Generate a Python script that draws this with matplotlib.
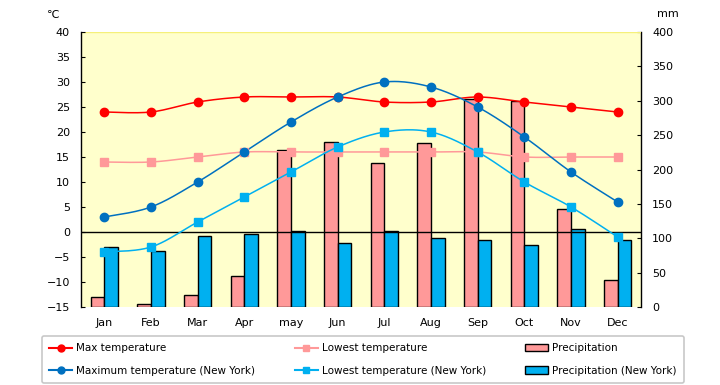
import numpy as np
import matplotlib.pyplot as plt
from matplotlib.lines import Line2D
from matplotlib.patches import Patch

months = ["Jan", "Feb", "Mar", "Apr", "may", "Jun", "Jul", "Aug", "Sep", "Oct", "Nov", "Dec"]

max_temp = [24, 24, 26, 27, 27, 27, 26, 26, 27, 26, 25, 24]
low_temp = [14, 14, 15, 16, 16, 16, 16, 16, 16, 15, 15, 15]
precip = [14, 4, 18, 45, 228, 240, 210, 239, 303, 299, 143, 40]

ny_max_temp = [3, 5, 10, 16, 22, 27, 30, 29, 25, 19, 12, 6]
ny_low_temp = [-4, -3, 2, 7, 12, 17, 20, 20, 16, 10, 5, -1]
ny_precip = [87, 82, 103, 106, 111, 93, 110, 101, 98, 90, 113, 98]

temp_ticks = list(range(-15, 41, 5))
mm_ticks = list(range(0, 401, 50))


def smooth(x, y, n=24):
    # bezier smoothing like spreadsheet "smoothed line"
    x = np.asarray(x, float)
    y = np.asarray(y, float)
    pts = np.column_stack([x, y])
    out = [pts[0]]
    t = np.linspace(0, 1, n)[1:, None]
    for i in range(len(pts) - 1):
        p0 = pts[i - 1] if i > 0 else pts[i]
        p1 = pts[i]
        p2 = pts[i + 1]
        p3 = pts[i + 2] if i + 2 < len(pts) else pts[i + 1]
        c1 = p1 + (p2 - p0) / 6
        c2 = p2 - (p3 - p1) / 6
        seg = ((1 - t) ** 3) * p1 + 3 * ((1 - t) ** 2) * t * c1 + 3 * (1 - t) * t ** 2 * c2 + t ** 3 * p2
        out.extend(seg)
    out = np.array(out)
    return out[:, 0], out[:, 1]


fig = plt.figure(figsize=(7.2, 3.85), dpi=100)
ax = fig.add_axes([81 / 720, 1 - 307 / 385, (641 - 81) / 720, (307 - 32) / 385])
ax.set_facecolor("#FFFFCC")

x = np.arange(len(months))
bw = 0.29
ax.bar(x - bw / 2, precip, bw, color="#FF9999", edgecolor="black", linewidth=1, zorder=2)
ax.bar(x + bw / 2, ny_precip, bw, color="#00B0F0", edgecolor="black", linewidth=1, zorder=2)
ax.set_ylim(0, 400)
ax.set_xlim(-0.5, 11.5)
ax.set_xticks(x)
ax.set_xticklabels(months)
ax.tick_params(axis="x", length=0, labelsize=8, pad=8)

axt = ax.twinx()
axt.set_ylim(-15, 40)

# bars axis -> right scale, temperature axis -> left scale
ax.set_yticks(mm_ticks)
ax.yaxis.tick_right()
ax.yaxis.set_label_position("right")
ax.tick_params(axis="y", direction="in", length=3, labelsize=8, pad=8,
               left=False, labelleft=False, right=True, labelright=True)
axt.set_yticks(temp_ticks)
axt.yaxis.tick_left()
axt.tick_params(axis="y", direction="in", length=3, labelsize=8, pad=8,
                right=False, labelright=False, left=True, labelleft=True)

for s in ["top", "bottom", "left"]:
    ax.spines[s].set_visible(False)
ax.spines["right"].set_linewidth(1)
for s in ["top", "bottom", "right"]:
    axt.spines[s].set_visible(False)
axt.spines["left"].set_linewidth(1)
axt.axhline(0, color="black", lw=1, zorder=1)
axt.axhline(40, color="#F5F07A", lw=1, zorder=1)

series = [
    (max_temp, "#FF0000", "o", 6),
    (low_temp, "#FF9999", "s", 5.5),
    (ny_max_temp, "#0070C0", "o", 6),
    (ny_low_temp, "#00B0F0", "s", 5.5),
]
for vals, c, m, ms in series:
    sx, sy = smooth(x, vals)
    axt.plot(sx, sy, color=c, lw=1.1, zorder=3)
    axt.plot(x, vals, ls="none", marker=m, color=c, markersize=ms, zorder=4)

fig.text(53 / 720, 1 - 15 / 385, "℃", fontsize=8, ha="center", va="center")
fig.text(668 / 720, 1 - 14 / 385, "mm", fontsize=8, ha="center", va="center")

handles = [
    Line2D([], [], color="#FF0000", marker="o", markersize=5),
    Line2D([], [], color="#0070C0", marker="o", markersize=5),
    Line2D([], [], color="#FF9999", marker="s", markersize=5),
    Line2D([], [], color="#00B0F0", marker="s", markersize=5),
    Patch(facecolor="#FF9999", edgecolor="black"),
    Patch(facecolor="#00B0F0", edgecolor="black"),
]
labels = [
    "Max temperature",
    "Maximum temperature (New York)",
    "Lowest temperature",
    "Lowest temperature (New York)",
    "Precipitation",
    "Precipitation (New York)",
]
leg = fig.legend(handles, labels, ncol=3, loc="lower left",
                 bbox_to_anchor=(42 / 720, 2 / 385, 642 / 720, 50 / 385),
                 mode="expand", fontsize=7.5, frameon=True, fancybox=True,
                 edgecolor="#BBBBBB", handlelength=2.2, handletextpad=0.4,
                 labelspacing=1.2, borderpad=0.7, borderaxespad=0)
leg.get_frame().set_linewidth(1.2)

fig.savefig("out.png", dpi=100)
